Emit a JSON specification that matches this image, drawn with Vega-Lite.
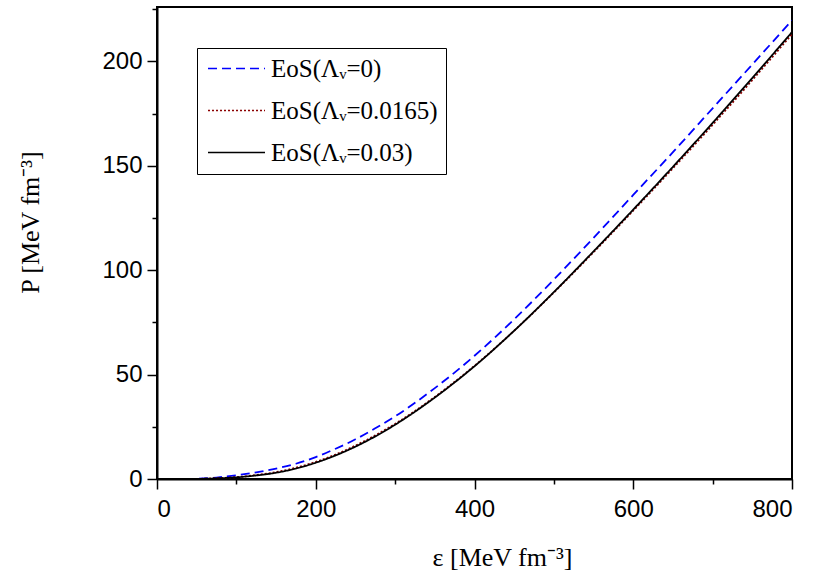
{
  "$schema": "https://vega.github.io/schema/vega-lite/v6.json",
  "width": 635,
  "height": 472,
  "autosize": {"type": "none"},
  "padding": {"left": 157, "top": 7, "right": 23, "bottom": 97},
  "background": "white",
  "config": {
    "view": {"stroke": "black", "strokeWidth": 2},
    "axis": {
      "domainColor": "black", "domainWidth": 2,
      "tickColor": "black", "tickWidth": 1.5,
      "labelFont": "Liberation Sans", "labelFontSize": 24, "labelColor": "black",
      "titleFont": "Liberation Serif", "titleFontSize": 26, "titleFontWeight": "normal", "titleColor": "black",
      "grid": false
    }
  },
  "data": {
    "values": [
      {"s": "EoS(Λᵥ=0)", "e": 0, "p": 0},
      {"s": "EoS(Λᵥ=0)", "e": 25, "p": 0},
      {"s": "EoS(Λᵥ=0)", "e": 50, "p": 0.1},
      {"s": "EoS(Λᵥ=0)", "e": 75, "p": 0.7},
      {"s": "EoS(Λᵥ=0)", "e": 100, "p": 1.8},
      {"s": "EoS(Λᵥ=0)", "e": 125, "p": 3.2},
      {"s": "EoS(Λᵥ=0)", "e": 150, "p": 5},
      {"s": "EoS(Λᵥ=0)", "e": 175, "p": 7.3},
      {"s": "EoS(Λᵥ=0)", "e": 200, "p": 10.5},
      {"s": "EoS(Λᵥ=0)", "e": 225, "p": 14.5},
      {"s": "EoS(Λᵥ=0)", "e": 250, "p": 19},
      {"s": "EoS(Λᵥ=0)", "e": 275, "p": 24.3},
      {"s": "EoS(Λᵥ=0)", "e": 300, "p": 30},
      {"s": "EoS(Λᵥ=0)", "e": 350, "p": 43.5},
      {"s": "EoS(Λᵥ=0)", "e": 400, "p": 59},
      {"s": "EoS(Λᵥ=0)", "e": 450, "p": 76.5},
      {"s": "EoS(Λᵥ=0)", "e": 500, "p": 95.5},
      {"s": "EoS(Λᵥ=0)", "e": 550, "p": 115.5},
      {"s": "EoS(Λᵥ=0)", "e": 600, "p": 136},
      {"s": "EoS(Λᵥ=0)", "e": 650, "p": 156.5},
      {"s": "EoS(Λᵥ=0)", "e": 700, "p": 177.5},
      {"s": "EoS(Λᵥ=0)", "e": 750, "p": 198.5},
      {"s": "EoS(Λᵥ=0)", "e": 800, "p": 219.6},
      {"s": "EoS(Λᵥ=0.0165)", "e": 0, "p": 0},
      {"s": "EoS(Λᵥ=0.0165)", "e": 25, "p": 0},
      {"s": "EoS(Λᵥ=0.0165)", "e": 50, "p": 0.06},
      {"s": "EoS(Λᵥ=0.0165)", "e": 75, "p": 0.35},
      {"s": "EoS(Λᵥ=0.0165)", "e": 100, "p": 0.9},
      {"s": "EoS(Λᵥ=0.0165)", "e": 125, "p": 1.9},
      {"s": "EoS(Λᵥ=0.0165)", "e": 150, "p": 3.3},
      {"s": "EoS(Λᵥ=0.0165)", "e": 175, "p": 5.4},
      {"s": "EoS(Λᵥ=0.0165)", "e": 200, "p": 8.2},
      {"s": "EoS(Λᵥ=0.0165)", "e": 225, "p": 11.7},
      {"s": "EoS(Λᵥ=0.0165)", "e": 250, "p": 16},
      {"s": "EoS(Λᵥ=0.0165)", "e": 275, "p": 20.9},
      {"s": "EoS(Λᵥ=0.0165)", "e": 300, "p": 26.4},
      {"s": "EoS(Λᵥ=0.0165)", "e": 350, "p": 39.3},
      {"s": "EoS(Λᵥ=0.0165)", "e": 400, "p": 54.2},
      {"s": "EoS(Λᵥ=0.0165)", "e": 450, "p": 71},
      {"s": "EoS(Λᵥ=0.0165)", "e": 500, "p": 89.3},
      {"s": "EoS(Λᵥ=0.0165)", "e": 550, "p": 108.6},
      {"s": "EoS(Λᵥ=0.0165)", "e": 600, "p": 128.5},
      {"s": "EoS(Λᵥ=0.0165)", "e": 650, "p": 148.8},
      {"s": "EoS(Λᵥ=0.0165)", "e": 700, "p": 169.6},
      {"s": "EoS(Λᵥ=0.0165)", "e": 750, "p": 191},
      {"s": "EoS(Λᵥ=0.0165)", "e": 800, "p": 213},
      {"s": "EoS(Λᵥ=0.03)", "e": 0, "p": 0},
      {"s": "EoS(Λᵥ=0.03)", "e": 25, "p": 0},
      {"s": "EoS(Λᵥ=0.03)", "e": 50, "p": 0.05},
      {"s": "EoS(Λᵥ=0.03)", "e": 75, "p": 0.3},
      {"s": "EoS(Λᵥ=0.03)", "e": 100, "p": 0.8},
      {"s": "EoS(Λᵥ=0.03)", "e": 125, "p": 1.7},
      {"s": "EoS(Λᵥ=0.03)", "e": 150, "p": 3},
      {"s": "EoS(Λᵥ=0.03)", "e": 175, "p": 5},
      {"s": "EoS(Λᵥ=0.03)", "e": 200, "p": 7.8},
      {"s": "EoS(Λᵥ=0.03)", "e": 225, "p": 11.3},
      {"s": "EoS(Λᵥ=0.03)", "e": 250, "p": 15.5},
      {"s": "EoS(Λᵥ=0.03)", "e": 275, "p": 20.4},
      {"s": "EoS(Λᵥ=0.03)", "e": 300, "p": 26},
      {"s": "EoS(Λᵥ=0.03)", "e": 350, "p": 39},
      {"s": "EoS(Λᵥ=0.03)", "e": 400, "p": 54},
      {"s": "EoS(Λᵥ=0.03)", "e": 450, "p": 71},
      {"s": "EoS(Λᵥ=0.03)", "e": 500, "p": 89.5},
      {"s": "EoS(Λᵥ=0.03)", "e": 550, "p": 109},
      {"s": "EoS(Λᵥ=0.03)", "e": 600, "p": 129},
      {"s": "EoS(Λᵥ=0.03)", "e": 650, "p": 149.5},
      {"s": "EoS(Λᵥ=0.03)", "e": 700, "p": 170.5},
      {"s": "EoS(Λᵥ=0.03)", "e": 750, "p": 192},
      {"s": "EoS(Λᵥ=0.03)", "e": 800, "p": 214}
    ]
  },
  "mark": {"type": "line", "interpolate": "monotone", "strokeWidth": 1.8, "clip": true},
  "encoding": {
    "x": {
      "field": "e", "type": "quantitative",
      "scale": {"domain": [0, 800], "nice": false, "zero": false},
      "axis": {
        "values": [0, 100, 200, 300, 400, 500, 600, 700, 800],
        "labelExpr": "datum.value % 200 === 0 ? datum.label : ''",
        "tickSize": {"condition": {"test": "datum.value % 200 === 0", "value": 10}, "value": 5},
        "labelPadding": 8,
        "title": "ε [MeV fm⁻³]",
        "titleX": 345, "titleY": 78, "titleAlign": "center", "titleBaseline": "middle"
      }
    },
    "y": {
      "field": "p", "type": "quantitative",
      "scale": {"domain": [0, 226], "nice": false, "zero": false},
      "axis": {
        "values": [0, 25, 50, 75, 100, 125, 150, 175, 200, 225],
        "labelExpr": "datum.value % 50 === 0 ? datum.label : ''",
        "tickSize": {"condition": {"test": "datum.value % 50 === 0", "value": 10}, "value": 5},
        "labelPadding": 5,
        "title": "P [MeV fm⁻³]",
        "titleX": -127, "titleY": 215, "titleAngle": -90, "titleAlign": "center", "titleBaseline": "middle"
      }
    },
    "color": {
      "field": "s", "type": "nominal",
      "sort": ["EoS(Λᵥ=0)", "EoS(Λᵥ=0.0165)", "EoS(Λᵥ=0.03)"],
      "scale": {"domain": ["EoS(Λᵥ=0)", "EoS(Λᵥ=0.0165)", "EoS(Λᵥ=0.03)"], "range": ["#0000ff", "#8b0000", "#000000"]},
      "legend": {
        "title": null, "orient": "none", "legendX": 40, "legendY": 41,
        "strokeColor": "black", "padding": 8, "fillColor": "white",
        "symbolType": "M-3,0H3", "symbolSize": 361, "symbolStrokeWidth": 1.6, "symbolOffset": 19,
        "labelFont": "Liberation Serif", "labelFontSize": 25, "labelColor": "black",
        "labelOffset": 22, "rowPadding": 16, "labelLimit": 300
      }
    },
    "strokeDash": {
      "field": "s", "type": "nominal",
      "sort": ["EoS(Λᵥ=0)", "EoS(Λᵥ=0.0165)", "EoS(Λᵥ=0.03)"],
      "scale": {"domain": ["EoS(Λᵥ=0)", "EoS(Λᵥ=0.0165)", "EoS(Λᵥ=0.03)"], "range": [[9, 5], [2, 2], [1, 0]]},
      "legend": null
    },
    "order": {"field": "e", "type": "quantitative"}
  }
}
